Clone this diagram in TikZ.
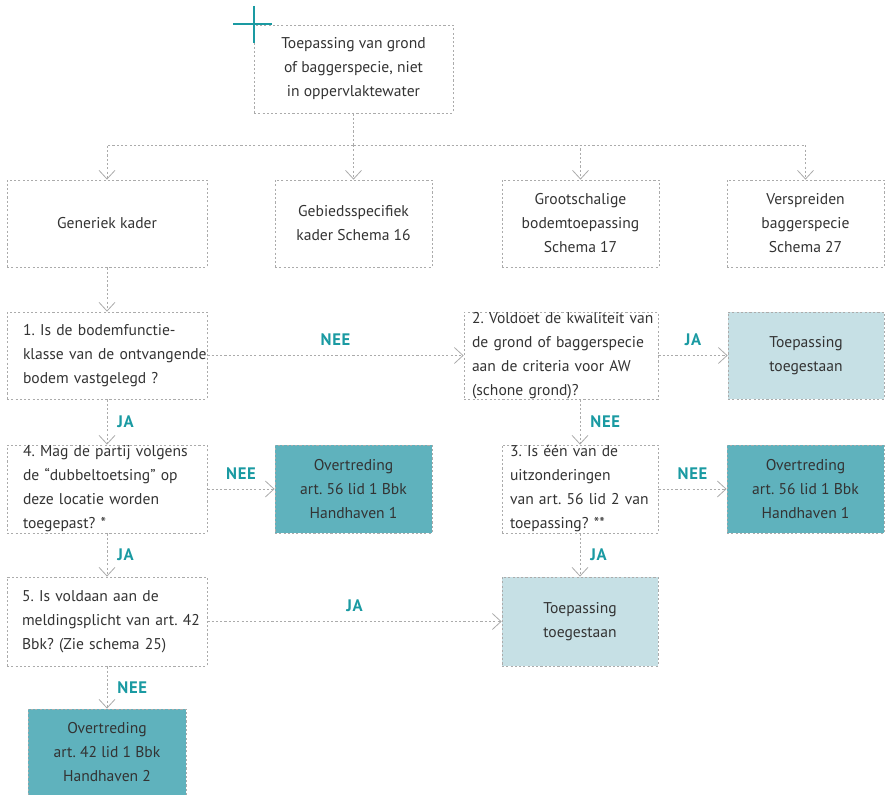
\documentclass[tikz,border=0pt]{standalone}
\usepackage{fontspec}
\setmainfont{PT Sans}
\newfontfamily\lblfont[LetterSpace=4.0]{PT Sans}
\usetikzlibrary{arrows.meta}
\definecolor{teal1}{HTML}{1A9AA2}
\definecolor{boxline}{HTML}{ABABAB}
\definecolor{darkfill}{HTML}{5FB2BD}
\definecolor{lightfill}{HTML}{C6E0E5}
\definecolor{txt}{HTML}{333333}
\newcommand{\tline}[1]{\mbox{#1}}
\frenchspacing
\begin{document}
\begin{tikzpicture}[x=0.75pt,y=-0.75pt,
  font=\fontsize{11.7}{18}\selectfont\frenchspacing, text=txt,
  dsh/.style={draw=boxline, line width=0.6pt, dash pattern=on 1.6pt off 1.6pt},
  box/.style 2 args={dsh, rectangle, inner sep=0pt, minimum width=#1*0.75pt, minimum height=#2*0.75pt},
  cbox/.style={align=center},
  % left-aligned question box: #1 = box width, #2 = left padding (px)
  lbox/.style 2 args={align=left, inner xsep=#2*0.75pt, text width=(#1-2*#2)*0.75pt},
  okbox/.style={fill=lightfill, align=center},
  ovbox/.style={fill=darkfill, align=center},
  arr/.style={dsh, -{Straight Barb[length=6.5pt,width=12pt,line width=0.6pt]}},
  line/.style={dsh},
  lbl/.style={font=\lblfont\fontsize{12.5}{14}\selectfont\bfseries, text=teal1, inner sep=0pt},
  cross/.style={draw=teal1, line width=2.2pt}
]
\useasboundingbox (0,0) rectangle (885,795);

% boxes
\node[box={199}{88}, cbox] (top) at (353.5,69) {Toepassing van grond\\of baggerspecie, niet\\in oppervlaktewater};
\node[box={200}{87}, cbox] (gen) at (107,223.5) {Generiek kader};
\node[box={157}{87}, cbox] (geb) at (353.5,223.5) {Gebiedsspecifiek\\kader Schema 16};
\node[box={157}{87}, cbox] (groot) at (580.5,223.5) {Grootschalige\\bodemtoepassing\\Schema 17};
\node[box={157}{87}, cbox] (versp) at (805.5,223.5) {Verspreiden\\baggerspecie\\Schema 27};

\node[box={200}{87}, lbox={200}{16}] (q1) at (107,355.5) {\tline{1. Is de bodemfunctie-}\\\tline{klasse van de ontvangende}\\\tline{bodem vastgelegd ?}};
\node[box={194}{87}, lbox={194}{8}] (q2) at (561,355.5) {\tline{2. Voldoet de kwaliteit van}\\\tline{de grond of baggerspecie}\\\tline{aan de criteria voor AW}\\\tline{(schone grond)?}};
\node[box={156}{87}, okbox] (ok1) at (806,355.5) {Toepassing\\toegestaan};

\node[box={200}{88}, lbox={200}{16}] (q4) at (107,489) {\tline{4. Mag de partij volgens}\\\tline{de “dubbeltoetsing” op}\\\tline{deze locatie worden}\\\tline{toegepast? *}};
\node[box={157}{88}, ovbox] (ov1) at (353.5,489) {Overtreding\\art. 56 lid 1 Bbk\\Handhaven 1};
\node[box={156}{88}, lbox={156}{8}] (q3) at (580,489) {\tline{3. Is één van de}\\\tline{uitzonderingen}\\\tline{van art. 56 lid 2 van}\\\tline{toepassing? **}};
\node[box={157}{88}, ovbox] (ov2) at (805.5,489) {Overtreding\\art. 56 lid 1 Bbk\\Handhaven 1};

\node[box={200}{89}, lbox={200}{15}] (q5) at (107,621.5) {\tline{5. Is voldaan aan de}\\\tline{meldingsplicht van art. 42}\\\tline{Bbk? (Zie schema 25)}};
\node[box={156}{89}, okbox] (ok2) at (580,621.5) {Toepassing\\toegestaan};

\node[box={158}{86}, ovbox] (ov3) at (107,752) {Overtreding\\art. 42 lid 1 Bbk\\Handhaven 2};

% cross mark
\draw[cross] (233,24) -- (272,24);
\draw[cross] (254,6) -- (254,43);

% distribution
\coordinate (split) at (353.5,145);
\draw[line] (top) -- (split);
\draw[arr] (split) -| (gen);
\draw[arr] (split) -- (geb);
\draw[arr] (split) -| (groot);
\draw[arr] (split) -| (versp);

% flow
\draw[arr] (gen) -- (q1);
\draw[arr] (q1) -- node[lbl, above=7pt] {NEE} (q2);
\draw[arr] (q2) -- node[lbl, above=7pt] {JA} (ok1);
\draw[arr] (q2.south -| q3.north) -- node[lbl, right=7.5pt] {NEE} (q3.north);
\draw[arr] (q1) -- node[lbl, right=7.5pt] {JA} (q4);
\draw[arr] (q4) -- node[lbl, above=7pt] {NEE} (ov1);
\draw[arr] (q4) -- node[lbl, right=7.5pt] {JA} (q5);
\draw[arr] (q3) -- node[lbl, above=7pt] {NEE} (ov2);
\draw[arr] (q3) -- node[lbl, right=7.5pt] {JA} (ok2);
\draw[arr] (q5) -- node[lbl, above=7pt] {JA} (ok2);
\draw[arr] (q5) -- node[lbl, right=7.5pt] {NEE} (ov3);
\end{tikzpicture}
\end{document}
